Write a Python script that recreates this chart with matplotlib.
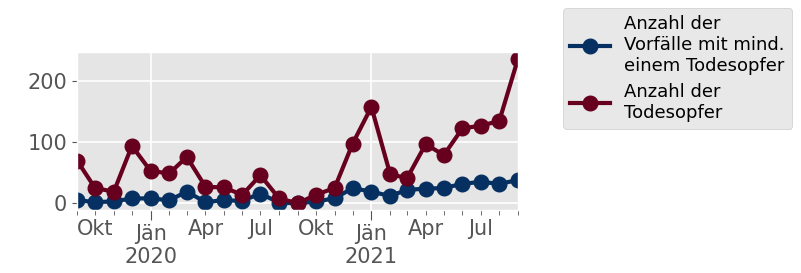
import pandas as pd
import matplotlib.pyplot as plt
import matplotlib.dates as mdates

plt.style.use('ggplot')

# monthly values, Sep 2019 - Sep 2021
months = pd.date_range(start='2019-09-01', periods=25, freq='MS')
vorfaelle = [5, 2, 3, 8, 8, 5, 19, 2, 5, 4, 16, 1, 0, 3, 8, 25,
             19, 12, 22, 24, 25, 32, 35, 32, 38]
todesopfer = [70, 25, 19, 94, 53, 49, 76, 27, 26, 14, 46, 8, 0, 14, 25, 98,
              158, 48, 41, 97, 79, 123, 127, 135, 237]

label_vorfaelle = 'Anzahl der\nVorfälle mit mind.\neinem Todesopfer'
label_todesopfer = 'Anzahl der\nTodesopfer'

month_names = {1: 'Jän', 4: 'Apr', 7: 'Jul', 10: 'Okt'}

fig = plt.figure(figsize=(8.01, 2.73), dpi=100)
ax = fig.add_axes([77/801, 63/273, 441/801, 158/273])

ax.plot(months, vorfaelle, color='#053061', marker='o', markersize=10.5,
        linewidth=3, label=label_vorfaelle)
ax.plot(months, todesopfer, color='#67001f', marker='o', markersize=10.5,
        linewidth=3, label=label_todesopfer)

ax.set_xlim(months[0], months[-1])
ax.set_ylim(-11, 248)
ax.set_yticks([0, 100, 200])

# major ticks at January, minor ticks every month
ax.xaxis.set_major_locator(mdates.MonthLocator(bymonth=[1]))
ax.xaxis.set_minor_locator(mdates.MonthLocator())
ax.xaxis.set_major_formatter(plt.FuncFormatter(
    lambda v, p: 'Jän\n' + str(mdates.num2date(v).year)))
ax.xaxis.set_minor_formatter(plt.FuncFormatter(
    lambda v, p: '' if mdates.num2date(v).month == 1
    else month_names.get(mdates.num2date(v).month, '')))

ax.tick_params(axis='both', which='both', labelsize=15, colors='#555555')
ax.tick_params(axis='x', which='major', length=7, pad=3)
ax.tick_params(axis='x', which='minor', length=3.5, pad=3)
ax.grid(True, which='major', color='white', linewidth=1.2)
ax.grid(False, which='minor')

leg = ax.legend(loc='upper left', bbox_to_anchor=(563/801, 1 - 8/273),
                bbox_transform=fig.transFigure, borderaxespad=0,
                fontsize=13, handlelength=2.2, labelspacing=0.45,
                fancybox=True, facecolor='#E8E8E8', edgecolor='#CCCCCC',
                framealpha=1)
for t in leg.get_texts():
    t.set_color('black')

fig.savefig('out.png', dpi=100)
